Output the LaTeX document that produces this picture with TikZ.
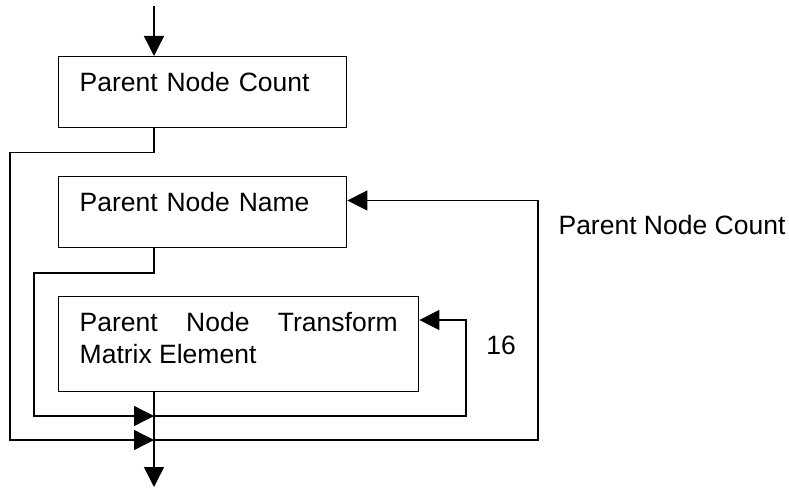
\documentclass[tikz,border=0pt]{standalone}
\usepackage{fontspec}
\setmainfont{Liberation Sans}
\usetikzlibrary{arrows.meta}
\usetikzlibrary{positioning}
\usetikzlibrary{calc}

\tikzset{
  field/.style={draw, line width=1.4pt, anchor=north west, inner xsep=21pt,
    inner ysep=17.5pt, text height=17.5pt, align=left,
    font=\fontsize{26.5}{32}\selectfont},
  flow/.style={line width=1.4pt},
  tip/.style={flow, -{Triangle[length=20pt,width=20pt]}},
  lbl/.style={font=\fontsize{26.5}{32}\selectfont}
}

\begin{document}
\begin{tikzpicture}[x=1pt, y=1pt]
  \useasboundingbox (0,0) rectangle (789,-487);

  \node[field, text width=246pt, text depth=18pt] (cnt) at (58,-56) {Parent Node Count};
  \node[field, text width=246pt, text depth=18pt] (name) at (58,-176) {Parent Node Name};
  \node[field, text width=318pt, text depth=42.5pt, align=justify] (elem) at (58,-296)
    {Parent Node Transform Matrix Element};

  \coordinate (in) at (154,-6);
  \coordinate (out) at (154,-487);
  \coordinate (j1) at (154,-416);
  \coordinate (j2) at (154,-440);

  % outer loop
  \draw[tip] (in) -- (cnt.north -| in);
  \draw[tip] (cnt.south -| in) -- ++(0,-24.5) -| (10,-440) -- (j2);
  \draw[tip] (j2) -- (538,-440) |- ([yshift=-24.5]name.north east);

  % inner loop
  \draw[tip] (name.south -| in) -- ++(0,-25) -| (34,-416) -- (j1);
  \draw[tip] (j1) -- (466,-416) |- ([yshift=-24]elem.north east);
  \draw[tip] (elem.south -| in) -- (out);

  \node[lbl] (cntlbl) at (672,-225) {Parent Node Count};
  \node[lbl] (rep) at (501,-345) {16};
\end{tikzpicture}
\end{document}
